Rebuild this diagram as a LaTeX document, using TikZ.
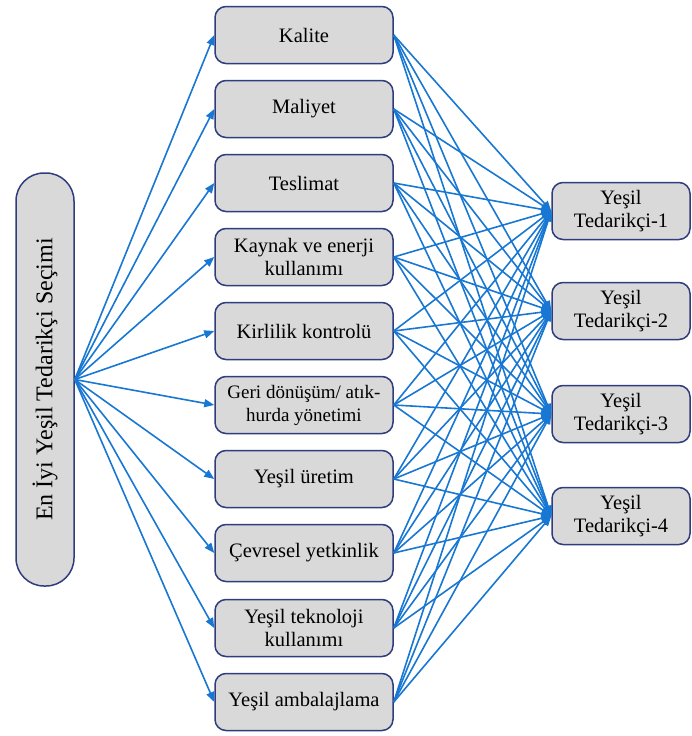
\documentclass[tikz,border=0pt]{standalone}
\usepackage{fontspec}
\setmainfont{Liberation Serif}
\usetikzlibrary{arrows.meta}
\definecolor{boxfill}{HTML}{D9D9D9}
\definecolor{boxline}{HTML}{2F3C7E}
\definecolor{linkblue}{HTML}{1877D2}
\tikzset{
  crit/.style={draw=boxline, line width=1.5pt, fill=boxfill, rounded corners=11pt,
    minimum width=178pt, minimum height=57pt, inner sep=2pt, align=center,
    font=\fontsize{20.5}{23}\selectfont},
  supp/.style={draw=boxline, line width=1.5pt, fill=boxfill, rounded corners=11pt,
    minimum width=138pt, minimum height=57pt, inner sep=2pt, align=center,
    font=\fontsize{20.5}{23}\selectfont},
  goal/.style={draw=boxline, line width=1.5pt, fill=boxfill, rounded corners=28pt,
    minimum width=413pt, minimum height=58pt, inner sep=2pt, rotate=90,
    font=\fontsize{24}{27}\selectfont},
  link/.style={draw=linkblue, line width=1.6pt, -{Triangle[length=10pt,width=8pt]}}
}
\begin{document}
\begin{tikzpicture}[x=1pt,y=-1pt]
\useasboundingbox (0,0) rectangle (692,736);
\node[goal] (g) at (45,379.5) {En İyi Yeşil Tedarikçi Seçimi};
\node[crit] (c1) at (304,35) {Kalite};
\node[crit] (c2) at (304,109) {Maliyet};
\node[crit] (c3) at (304,183) {Teslimat};
\node[crit] (c4) at (304,257) {Kaynak ve enerji\\kullanımı};
\node[crit] (c5) at (304,331) {Kirlilik kontrolü};
\node[crit, font=\fontsize{19}{23}\selectfont] (c6) at (304,405) {Geri dönüşüm/ atık-\\hurda yönetimi};
\node[crit] (c7) at (304,479) {Yeşil üretim};
\node[crit] (c8) at (304,553) {Çevresel yetkinlik};
\node[crit] (c9) at (304,628) {Yeşil teknoloji\\kullanımı};
\node[crit] (c10) at (304,702) {Yeşil ambalajlama};
\node[supp] (s1) at (621,211) {Yeşil\\Tedarikçi-1};
\node[supp] (s2) at (621,311) {Yeşil\\Tedarikçi-2};
\node[supp] (s3) at (621,414) {Yeşil\\Tedarikçi-3};
\node[supp] (s4) at (621,516) {Yeşil\\Tedarikçi-4};
\foreach \i in {1,...,10} {
  \draw[link] (g.south) -- (c\i.west);
  \foreach \j in {1,...,4} {
    \draw[link] (c\i.east) -- (s\j.west);
  }
}
\end{tikzpicture}
\end{document}
